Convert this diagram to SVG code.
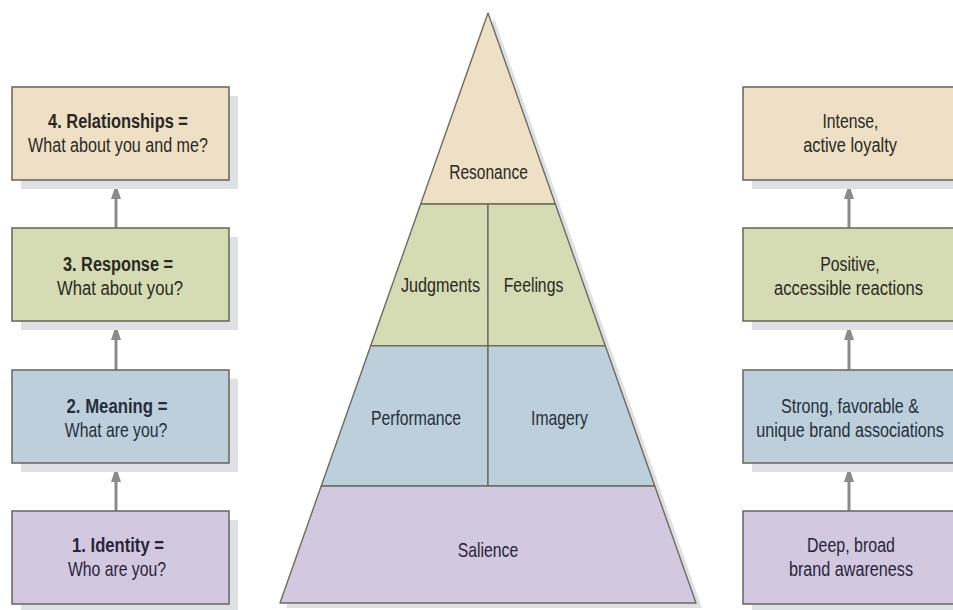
<svg xmlns="http://www.w3.org/2000/svg" width="953" height="610" viewBox="0 0 953 610">
  <style>
    .sh { fill: #dfe0e3; }
    .box { stroke: #6d6d64; stroke-width: 1.6; }
    .tan { fill: #eee0c4; }
    .grn { fill: #d5dcb3; }
    .blu { fill: #bdcfdb; }
    .pur { fill: #d2c9e1; }
    .cell { stroke: #6c6c60; stroke-width: 1.4; stroke-linejoin: round; }
    text { font-family: "Liberation Sans", Arial, sans-serif; font-size: 21px; text-anchor: middle; fill: #2a2924; }
    .b { font-weight: bold; }
    .bl { fill: #25303a; }
    .pu { fill: #29243a; }
    .conn { stroke: #8b8b8b; stroke-width: 3; fill: none; marker-end: url(#ah); }
  </style>
  <defs>
    <marker id="ah" markerUnits="userSpaceOnUse" viewBox="0 0 15 10" refX="1" refY="5" markerWidth="15" markerHeight="10" orient="auto">
      <path d="M0,0 L15,5 L0,10 z" fill="#8b8b8b"/>
    </marker>
  </defs>

  <rect width="953" height="610" fill="#ffffff"/>

  <!-- Connectors -->
  <g id="connectors">
    <line class="conn" x1="116" y1="228" x2="116" y2="198"/>
    <line class="conn" x1="116" y1="370" x2="116" y2="339"/>
    <line class="conn" x1="116" y1="511" x2="116" y2="481"/>
    <line class="conn" x1="849" y1="228" x2="849" y2="198"/>
    <line class="conn" x1="849" y1="370" x2="849" y2="339"/>
    <line class="conn" x1="849" y1="511" x2="849" y2="481"/>
  </g>

  <!-- Left boxes -->
  <g id="relationships">
    <rect class="sh" x="21" y="96" width="217" height="93"/>
    <rect class="box tan" x="12" y="87" width="217" height="93"/>
    <text class="b" transform="translate(118,128) scale(0.781,1)">4. Relationships =</text>
    <text transform="translate(118,152) scale(0.767,1)">What about you and me?</text>
  </g>
  <g id="response">
    <rect class="sh" x="21" y="237" width="217" height="93"/>
    <rect class="box grn" x="12" y="228" width="217" height="93"/>
    <text class="b" transform="translate(118,271) scale(0.776,1)">3. Response =</text>
    <text transform="translate(120,295) scale(0.794,1)">What about you?</text>
  </g>
  <g id="meaning">
    <rect class="sh" x="21" y="379" width="217" height="93"/>
    <rect class="box blu" x="12" y="370" width="217" height="93"/>
    <text class="b bl" transform="translate(117,413) scale(0.798,1)">2. Meaning =</text>
    <text class="bl" transform="translate(116,437) scale(0.75,1)">What are you?</text>
  </g>
  <g id="identity">
    <rect class="sh" x="21" y="520" width="217" height="93"/>
    <rect class="box pur" x="12" y="511" width="217" height="93"/>
    <text class="b pu" transform="translate(118,552) scale(0.792,1)">1. Identity =</text>
    <text class="pu" transform="translate(117,576) scale(0.75,1)">Who are you?</text>
  </g>

  <!-- Pyramid -->
  <polygon class="sh" points="494,18 702,608 286,608"/>
  <g id="resonance">
    <polygon class="cell tan" points="488,13 555.3,204 420.7,204"/>
    <text transform="translate(488.5,179) scale(0.74,1)">Resonance</text>
  </g>
  <g id="judgments">
    <polygon class="cell grn" points="420.7,204 488,204 488,345.7 370.7,345.7"/>
    <text transform="translate(440.5,292) scale(0.77,1)">Judgments</text>
  </g>
  <g id="feelings">
    <polygon class="cell grn" points="488,204 555.3,204 605.3,345.7 488,345.7"/>
    <text transform="translate(533.5,292) scale(0.75,1)">Feelings</text>
  </g>
  <g id="performance">
    <polygon class="cell blu" points="370.7,345.7 488,345.7 488,486 321.25,486"/>
    <text class="bl" transform="translate(416,425) scale(0.75,1)">Performance</text>
  </g>
  <g id="imagery">
    <polygon class="cell blu" points="488,345.7 605.3,345.7 654.75,486 488,486"/>
    <text class="bl" transform="translate(559.5,425) scale(0.75,1)">Imagery</text>
  </g>
  <g id="salience">
    <polygon class="cell pur" points="321.25,486 654.75,486 696,603 280,603"/>
    <text class="pu" transform="translate(488,557) scale(0.75,1)">Salience</text>
  </g>

  <!-- Right boxes -->
  <g id="loyalty">
    <rect class="sh" x="752" y="96" width="217" height="93"/>
    <rect class="box tan" x="743" y="87" width="217" height="93"/>
    <text transform="translate(850.5,128) scale(0.75,1)">Intense,</text>
    <text transform="translate(850,152) scale(0.78,1)">active loyalty</text>
  </g>
  <g id="reactions">
    <rect class="sh" x="752" y="237" width="217" height="93"/>
    <rect class="box grn" x="743" y="228" width="217" height="93"/>
    <text transform="translate(850,271) scale(0.75,1)">Positive,</text>
    <text transform="translate(848.5,295) scale(0.788,1)">accessible reactions</text>
  </g>
  <g id="associations">
    <rect class="sh" x="752" y="379" width="217" height="93"/>
    <rect class="box blu" x="743" y="370" width="217" height="93"/>
    <text class="bl" transform="translate(850,413) scale(0.768,1)">Strong, favorable &amp;</text>
    <text class="bl" transform="translate(850,437) scale(0.769,1)">unique brand associations</text>
  </g>
  <g id="awareness">
    <rect class="sh" x="752" y="520" width="217" height="93"/>
    <rect class="box pur" x="743" y="511" width="217" height="93"/>
    <text class="pu" transform="translate(851,552) scale(0.76,1)">Deep, broad</text>
    <text class="pu" transform="translate(851,576) scale(0.77,1)">brand awareness</text>
  </g>
</svg>
